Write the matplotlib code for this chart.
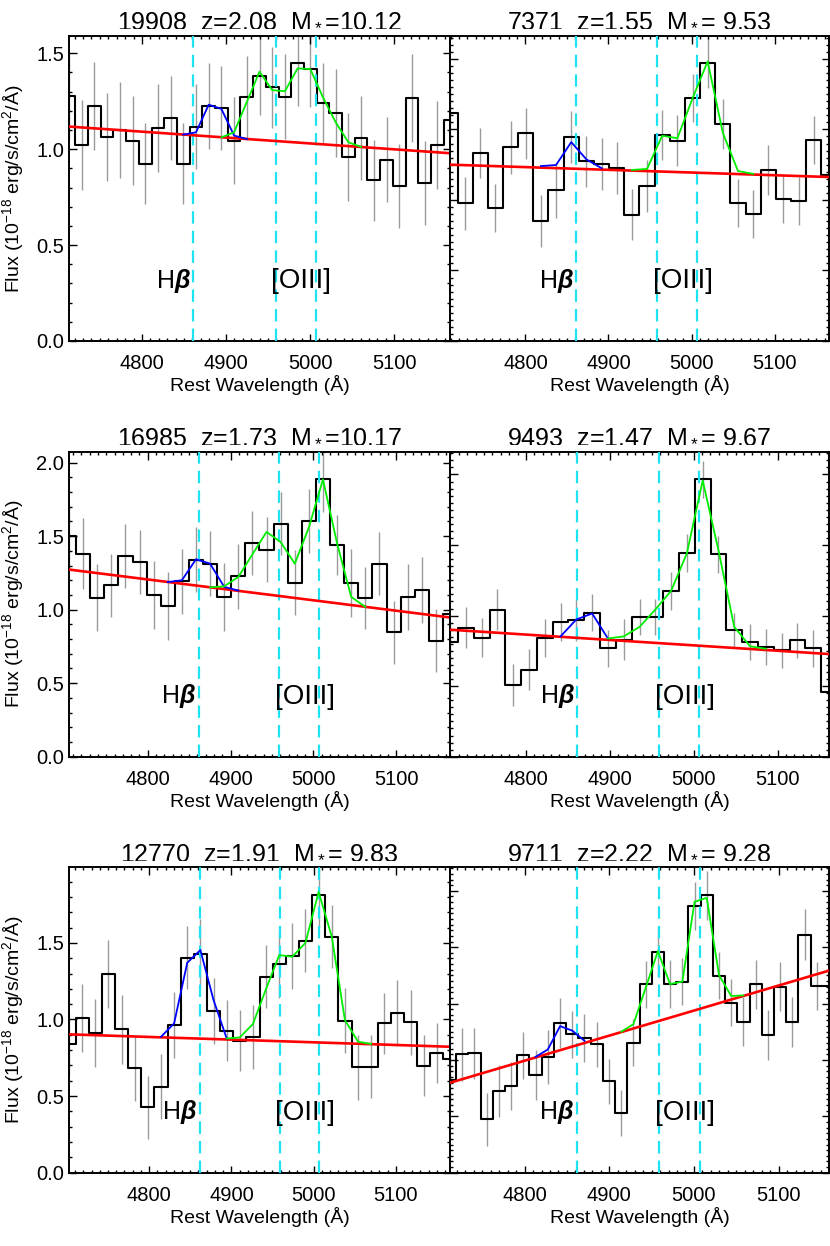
import numpy as np
import matplotlib
matplotlib.use('Agg')
import matplotlib.pyplot as plt
from matplotlib.ticker import MultipleLocator

plt.rcParams['font.family'] = ['Liberation Sans', 'DejaVu Sans']
plt.rcParams['mathtext.fontset'] = 'custom'
plt.rcParams['mathtext.rm'] = 'Liberation Sans'
plt.rcParams['mathtext.it'] = 'Liberation Sans:italic'
plt.rcParams['mathtext.bf'] = 'Liberation Sans:bold'
try:
    plt.rcParams['mathtext.bfit'] = 'Liberation Sans:italic:bold'
    HB_LABEL = r'H$\mathbfit{\beta}$'
except KeyError:
    HB_LABEL = r'H$\beta$'

# rest wavelengths of the lines (dashed)
line_waves = [4861.3, 4958.9, 5006.8]

# === 19908 ===
wave_19908 = [4713.3, 4728.4, 4743.5, 4758.6, 4773.7, 4788.8, 4803.9, 4819.0, 4834.1, 4849.2, 4864.3,
              4879.4, 4894.5, 4909.6, 4924.7, 4939.8, 4954.9, 4970.0, 4985.1, 5000.2, 5015.3, 5030.4,
              5045.5, 5060.6, 5075.7, 5090.8, 5105.9, 5121.0, 5136.1, 5151.2, 5166.3]
flux_19908 = [1.276, 1.024, 1.227, 1.062, 1.100, 1.045, 0.924, 1.109, 1.163, 0.924, 1.118,
              1.225, 1.215, 1.045, 1.270, 1.383, 1.322, 1.274, 1.447, 1.418, 1.239, 1.187,
              0.958, 1.059, 0.837, 0.946, 0.808, 1.265, 0.825, 1.023, 1.154]
err_19908 = [0.23, 0.235, 0.23, 0.23, 0.25, 0.23, 0.21, 0.23, 0.22, 0.21, 0.22,
             0.225, 0.22, 0.225, 0.215, 0.205, 0.21, 0.22, 0.22, 0.20, 0.21, 0.23,
             0.23, 0.22, 0.21, 0.22, 0.22, 0.23, 0.22, 0.23, 0.23]
cont_19908 = [1.118, 0.979]
hb_19908 = [1.076, 1.088, 1.232, 1.210, 1.071, 1.053]
o3_19908 = [1.062, 1.088, 1.246, 1.404, 1.308, 1.302, 1.421, 1.418, 1.270, 1.140, 1.036, 1.012]

# === 7371 ===
wave_7371 = [4709.3, 4727.5, 4745.7, 4764.0, 4782.2, 4800.5, 4818.7, 4836.9, 4855.2, 4873.4, 4891.7,
             4909.9, 4928.1, 4946.4, 4964.6, 4982.9, 5001.1, 5019.3, 5037.6, 5055.8, 5074.1, 5092.3,
             5110.5, 5128.8, 5147.0, 5165.3]
flux_7371 = [0.646, 0.391, 0.533, 0.378, 0.549, 0.589, 0.340, 0.427, 0.578, 0.509, 0.502,
             0.490, 0.358, 0.439, 0.584, 0.568, 0.688, 0.787, 0.615, 0.392, 0.361, 0.486,
             0.403, 0.397, 0.570, 0.472]
err_7371 = [0.073, 0.075, 0.071, 0.068, 0.075, 0.073, 0.073, 0.077, 0.073, 0.073, 0.075,
            0.073, 0.073, 0.073, 0.071, 0.073, 0.068, 0.071, 0.071, 0.068, 0.068, 0.071,
            0.068, 0.068, 0.068, 0.071]
cont_7371 = [0.500, 0.465]
hb_7371 = [0.496, 0.499, 0.564, 0.515, 0.490]
o3_7371 = [0.485, 0.488, 0.582, 0.575, 0.688, 0.793, 0.590, 0.482, 0.474]

# === 16985 ===
wave_16985 = [4705.0, 4722.0, 4739.1, 4756.1, 4773.1, 4790.2, 4807.2, 4824.2, 4841.2, 4858.3, 4875.3,
              4892.3, 4909.4, 4926.4, 4943.4, 4960.5, 4977.5, 4994.5, 5011.5, 5028.6, 5045.6, 5062.6,
              5079.7, 5096.7, 5113.7, 5130.8, 5147.8, 5164.8]
flux_16985 = [1.501, 1.381, 1.082, 1.166, 1.365, 1.325, 1.098, 1.026, 1.193, 1.341, 1.313,
              1.087, 1.227, 1.454, 1.409, 1.585, 1.184, 1.603, 1.886, 1.438, 1.182, 1.082,
              1.313, 0.845, 1.087, 1.132, 0.788, 0.974]
err_16985 = [0.22, 0.24, 0.23, 0.215, 0.22, 0.22, 0.23, 0.23, 0.22, 0.22, 0.22,
             0.23, 0.22, 0.22, 0.22, 0.215, 0.22, 0.22, 0.22, 0.205, 0.23, 0.21,
             0.215, 0.215, 0.225, 0.225, 0.215, 0.22]
cont_16985 = [1.273, 0.947]
hb_16985 = [1.188, 1.200, 1.343, 1.313, 1.155, 1.130]
o3_16985 = [1.152, 1.159, 1.223, 1.377, 1.529, 1.460, 1.313, 1.560, 1.886, 1.449, 1.087, 1.019]

# === 9493 ===
wave_9493 = [4709.5, 4728.3, 4747.2, 4766.0, 4784.8, 4803.7, 4822.5, 4841.3, 4860.1, 4879.0, 4897.8,
             4916.6, 4935.5, 4954.3, 4973.1, 4992.0, 5010.8, 5029.6, 5048.4, 5067.3, 5086.1, 5104.9,
             5123.8, 5142.6, 5161.4]
flux_9493 = [0.324, 0.365, 0.337, 0.417, 0.203, 0.247, 0.337, 0.382, 0.387, 0.408, 0.307,
             0.332, 0.396, 0.396, 0.469, 0.577, 0.786, 0.574, 0.358, 0.325, 0.311, 0.302,
             0.330, 0.307, 0.184]
err_9493 = [0.055, 0.058, 0.055, 0.058, 0.059, 0.058, 0.054, 0.054, 0.060, 0.052, 0.052,
            0.057, 0.052, 0.052, 0.054, 0.054, 0.053, 0.052, 0.050, 0.052, 0.052, 0.050,
            0.050, 0.052, 0.055]
cont_9493 = [0.360, 0.291]
hb_9493 = [0.341, 0.389, 0.406, 0.335]
o3_9493 = [0.335, 0.341, 0.368, 0.417, 0.470, 0.577, 0.783, 0.585, 0.368, 0.313, 0.306]

# === 12770 ===
wave_12770 = [4702.5, 4718.5, 4734.5, 4750.4, 4766.4, 4782.4, 4798.4, 4814.4, 4830.3, 4846.3, 4862.3,
              4878.3, 4894.3, 4910.2, 4926.2, 4942.2, 4958.2, 4974.2, 4990.1, 5006.1, 5022.1, 5038.1,
              5054.1, 5070.0, 5086.0, 5102.0, 5118.0, 5134.0, 5149.9, 5165.9]
flux_12770 = [0.839, 1.007, 0.913, 1.296, 0.935, 0.681, 0.426, 0.561, 0.963, 1.403, 1.427,
              1.055, 0.926, 0.861, 0.887, 1.279, 1.361, 1.414, 1.514, 1.812, 1.540, 0.992,
              0.687, 0.692, 0.974, 1.044, 0.981, 0.698, 0.779, 0.739]
err_12770 = [0.20, 0.222, 0.223, 0.22, 0.223, 0.212, 0.207, 0.212, 0.217, 0.207, 0.228,
             0.217, 0.20, 0.20, 0.207, 0.207, 0.223, 0.217, 0.207, 0.207, 0.207, 0.212,
             0.212, 0.207, 0.20, 0.215, 0.212, 0.20, 0.196, 0.20]
cont_12770 = [0.903, 0.822]
hb_12770 = [0.887, 0.974, 1.370, 1.453, 1.127, 0.876]
o3_12770 = [0.876, 0.883, 0.970, 1.200, 1.420, 1.410, 1.500, 1.833, 1.540, 0.996, 0.855, 0.840]

# === 9711 ===
wave_9711 = [4711.9, 4726.3, 4740.8, 4755.2, 4769.7, 4784.1, 4798.5, 4813.0, 4827.4, 4841.9, 4856.3,
             4870.7, 4885.2, 4899.6, 4914.1, 4928.5, 4942.9, 4957.4, 4971.8, 4986.3, 5000.7, 5015.1,
             5029.6, 5044.0, 5058.5, 5072.9, 5087.3, 5101.8, 5116.2, 5130.7, 5145.1, 5159.5]
flux_9711 = [0.329, 0.420, 0.423, 0.189, 0.291, 0.307, 0.417, 0.346, 0.411, 0.530, 0.491,
             0.477, 0.456, 0.325, 0.213, 0.461, 0.669, 0.782, 0.669, 0.678, 0.946, 0.985,
             0.699, 0.603, 0.536, 0.668, 0.488, 0.660, 0.536, 0.845, 0.663, 0.663]
err_9711 = [0.085, 0.095, 0.090, 0.095, 0.092, 0.085, 0.083, 0.089, 0.095, 0.089, 0.083,
            0.085, 0.080, 0.080, 0.082, 0.083, 0.083, 0.086, 0.086, 0.083, 0.084, 0.087,
            0.084, 0.083, 0.086, 0.086, 0.089, 0.086, 0.089, 0.090, 0.086, 0.086]
cont_9711 = [0.319, 0.717]
hb_9711 = [0.411, 0.437, 0.520, 0.504, 0.468]
o3_9711 = [0.500, 0.527, 0.655, 0.786, 0.669, 0.678, 0.961, 0.975, 0.701, 0.627, 0.629]

panels = [
    ('19908', '2.08', '10.12', wave_19908, flux_19908, err_19908, cont_19908, hb_19908, 9, o3_19908, 12),
    ('7371', '1.55', ' 9.53', wave_7371, flux_7371, err_7371, cont_7371, hb_7371, 6, o3_7371, 12),
    ('16985', '1.73', '10.17', wave_16985, flux_16985, err_16985, cont_16985, hb_16985, 7, o3_16985, 10),
    ('9493', '1.47', ' 9.67', wave_9493, flux_9493, err_9493, cont_9493, hb_9493, 7, o3_9493, 10),
    ('12770', '1.91', ' 9.83', wave_12770, flux_12770, err_12770, cont_12770, hb_12770, 7, o3_12770, 12),
    ('9711', '2.22', ' 9.28', wave_9711, flux_9711, err_9711, cont_9711, hb_9711, 7, o3_9711, 14),
]

fig = plt.figure(figsize=(8.3, 12.46), dpi=100)
W, H = 830., 1246.
col_x = [(69, 381), (450, 379)]
row_y = [(35.7, 305.3), (451.7, 305.0), (867.3, 305.4)]

for n, (gid, z, mass, wave, flux, err, cont, hb, hb_i, o3, o3_i) in enumerate(panels):
    row, col = n // 2, n % 2
    x0, w = col_x[col]
    y0, h = row_y[row]
    ax = fig.add_axes([x0 / W, 1 - (y0 + h) / H, w / W, h / H])

    wave = np.array(wave)
    flux = np.array(flux)
    err = np.array(err)

    ax.vlines(wave, flux - err, flux + err, color='#9a9a9a', lw=1.0, zorder=1)
    ax.step(wave, flux, where='mid', color='k', lw=1.5, zorder=2)
    for lw_ in line_waves:
        ax.axvline(lw_, color='#1fe3f3', lw=1.6, ls=(0, (5.6, 3.2)), zorder=3)
    ax.plot([wave[0], wave[-1]], cont, color='#ff0000', lw=1.9, zorder=4)
    ax.plot(wave[hb_i:hb_i + len(hb)], hb, color='#0000ff', lw=1.3, zorder=5)
    ax.plot(wave[o3_i:o3_i + len(o3)], o3, color='#00ee00', lw=1.3, zorder=5)

    top = 1.1 * flux.max()
    ax.set_xlim(wave[0], wave[-1])
    ax.set_ylim(0, top)

    ax.text(4837, 0.175 * top, HB_LABEL, fontsize=18, ha='center', va='baseline')
    ax.text(4989.5, 0.172 * top, '[OIII]', fontsize=20, ha='center', va='baseline')

    ax.set_title(f'{gid}  z={z}  M$_*$={mass}', fontsize=18, pad=7)

    ax.xaxis.set_major_locator(MultipleLocator(100))
    ax.xaxis.set_minor_locator(MultipleLocator(10))
    if col == 0:
        ax.yaxis.set_major_locator(MultipleLocator(0.5))
        ax.yaxis.set_minor_locator(MultipleLocator(0.1))
        ax.set_ylabel(r'Flux (10$^{-18}$ erg/s/cm$^2$/Å)', fontsize=14)
        ax.yaxis.set_label_coords(-0.112, 0.5)
    else:
        ax.yaxis.set_major_locator(MultipleLocator(0.2))
        ax.yaxis.set_minor_locator(MultipleLocator(0.02))
    ax.tick_params(which='both', direction='in', top=True, right=True, width=1.0)
    ax.tick_params(which='major', length=5.4)
    ax.tick_params(which='minor', length=2.5)
    ax.tick_params(axis='x', labelsize=14.5, pad=9.4)
    ax.tick_params(axis='y', labelsize=14.5, pad=3.6, labelleft=(col == 0))
    if col == 0:
        ax.yaxis.set_major_formatter(plt.FormatStrFormatter('%.1f'))
    ax.set_xlabel('Rest Wavelength (Å)', fontsize=14)
    ax.xaxis.set_label_coords(0.5, -0.111)
    for s in ax.spines.values():
        s.set_linewidth(1.4)

fig.savefig('out.png', dpi=100)
